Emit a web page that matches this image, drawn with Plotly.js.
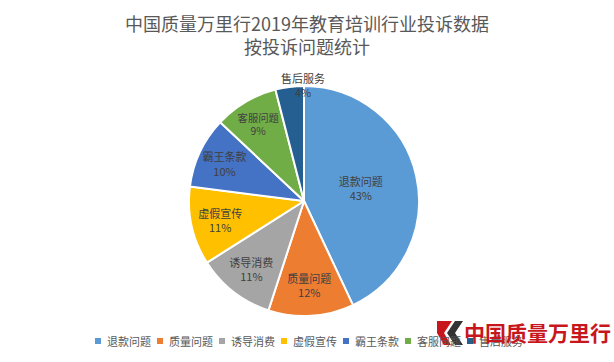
<!DOCTYPE html>
<html><head><meta charset="utf-8">
<script src="https://cdn.plot.ly/plotly-3.0.1.min.js"></script>
<style>html,body{margin:0;padding:0;background:#fff}</style>
</head><body>
<div id="chart" style="width:614px;height:362px"></div>
<script>
const categories = ['退款问题','质量问题','诱导消费','虚假宣传','霸王条款','客服问题','售后服务'];
const values = [43, 12, 11, 11, 10, 9, 4];
const colors = ['#5B9BD5','#ED7D31','#A5A5A5','#FFC000','#4472C4','#70AD47','#255E91'];
const titleText = '中国质量万里行2019年教育培训行业投诉数据<br>按投诉问题统计';
const watermark = '中国质量万里行';

const W = 614, H = 362;
const px = x => x / W;
const py = y => 1 - y / H;
const font = '"Noto Sans CJK SC", "Microsoft YaHei", sans-serif';
const last = categories.length - 1;

const trace = {
  type: 'pie',
  labels: categories,
  values: values,
  sort: false,
  direction: 'clockwise',
  rotation: 0,
  marker: {colors: colors, line: {color: '#ffffff', width: 2}},
  texttemplate: '%{label}<br>%{value}%',
  textposition: categories.map((c, i) => i === last ? 'none' : 'inside'),
  insidetextorientation: 'horizontal',
  textfont: {family: font, size: 11, color: '#404040'},
  hoverinfo: 'none',
  showlegend: false,
  domain: {x: [px(189), px(419)], y: [py(316), py(86)]}
};

const annotations = [];
const shapes = [];
// custom compact legend, built from the data arrays
categories.forEach((c, i) => {
  const mx = 98 + i * 62;
  shapes.push({type: 'rect', xref: 'paper', yref: 'paper',
    x0: px(mx - 3), x1: px(mx + 3), y0: py(344), y1: py(338),
    fillcolor: colors[i], line: {width: 0}});
  annotations.push({text: c, xref: 'paper', yref: 'paper', x: px(mx + 7), y: py(341),
    xanchor: 'left', yanchor: 'middle', showarrow: false,
    font: {family: font, size: 11, color: '#595959'}});
});
// outside label for the small last slice
annotations.push({text: categories[last] + '<br>' + values[last] + '%', xref: 'paper', yref: 'paper',
  x: px(303), y: py(85), xanchor: 'center', yanchor: 'middle', showarrow: false,
  font: {family: font, size: 11, color: '#404040'}});
// watermark logo
annotations.push({text: watermark, xref: 'paper', yref: 'paper', x: px(462), y: py(332),
  xanchor: 'left', yanchor: 'middle', showarrow: false,
  font: {family: font, size: 21, color: '#C8161D', weight: 'bold'}});
const path = pts => 'M' + pts.map(p => px(p[0]) + ',' + py(p[1])).join(' L') + ' Z';
shapes.push({type: 'path', xref: 'paper', yref: 'paper', line: {width: 0}, fillcolor: '#C8161D',
  path: path([[437,321],[452,321],[444,333],[451,345],[444,345],[437,333]])});
shapes.push({type: 'path', xref: 'paper', yref: 'paper', line: {width: 0}, fillcolor: '#333333',
  path: path([[455,321],[463,321],[455,333],[463,345],[455,345],[447,333]])});

const layout = {
  width: W, height: H,
  margin: {l: 0, r: 0, t: 0, b: 0},
  paper_bgcolor: '#ffffff',
  font: {family: font, color: '#595959'},
  title: {text: titleText, font: {family: font, size: 18, color: '#595959'},
    x: 0.5, xanchor: 'center', y: py(31), yanchor: 'middle'},
  showlegend: false,
  annotations: annotations,
  shapes: shapes
};
Plotly.newPlot('chart', [trace], layout, {displayModeBar: false, staticPlot: true});
</script>
</body></html>
